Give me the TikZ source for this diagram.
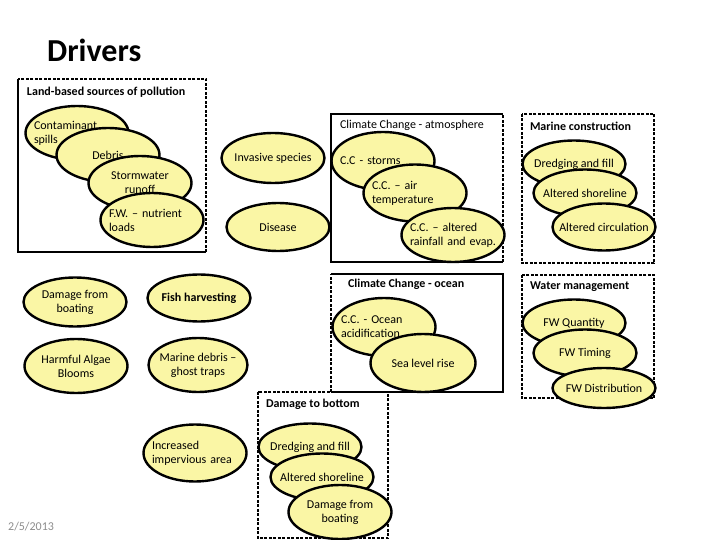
\documentclass[tikz,border=0pt]{standalone}
\usepackage{fontspec}
\setmainfont{Carlito}
\usetikzlibrary{shapes.geometric, positioning}
\definecolor{pale}{RGB}{250,246,165}
\tikzstyle{bubble} = [ellipse, draw=black, line width=2.4pt, fill=pale, minimum width=103pt, minimum height=54pt, inner xsep=-14pt, inner ysep=0pt, align=center, font=\fontsize{12}{14}\selectfont]
\tikzstyle{lbubble} = [bubble, text width=86pt, align=left]
\tikzstyle{flat} = [minimum height=47pt]
\tikzstyle{group} = [rectangle, draw=none, inner sep=0pt]
\tikzstyle{solidside} = [line width=2pt]
\tikzstyle{dashside} = [line width=2pt, dash pattern=on 3pt off 1.5pt]
\tikzstyle{heading} = [anchor=west, inner sep=0pt, font=\bfseries\fontsize{12}{14}\selectfont]

\begin{document}
\begin{tikzpicture}[x=1pt, y=-1pt]
\useasboundingbox (0,0) rectangle (720,540);

\node (title) [anchor=base west, inner sep=0pt, font=\bfseries\fontsize{32}{36}\selectfont] at (47,62) {Drivers};

% group boxes
\node (landbox) [group, minimum width=188pt, minimum height=173pt] at (112,165.5) {};
\node (atmbox) [group, minimum width=172pt, minimum height=148pt] at (417,188) {};
\node (marbox) [group, minimum width=132pt, minimum height=149pt] at (588,188.5) {};
\node (oceanbox) [group, minimum width=172pt, minimum height=118pt] at (417,333) {};
\node (waterbox) [group, minimum width=132pt, minimum height=123pt] at (588,336.5) {};
\node (bottombox) [group, minimum width=130pt, minimum height=146pt] at (323,465) {};

\draw [dashside] (landbox.south east) |- (landbox.north west);
\draw [solidside] (landbox.north west) |- (landbox.south east);
\draw [solidside] (atmbox.north east) -| (atmbox.south west) -- (atmbox.south east);
\draw [dashside] (atmbox.south east) -- (atmbox.north east);
\draw [dashside] (marbox.north west) rectangle (marbox.south east);
\draw [solidside] (oceanbox.north west) -- (oceanbox.north east) |- (oceanbox.south west);
\draw [dashside] (oceanbox.south west) -- (oceanbox.north west);
\draw [dashside] (waterbox.north west) rectangle (waterbox.south east);
\draw [dashside] (bottombox.north west) rectangle (bottombox.south east);

\node (landtitle) [heading, right=9pt of landbox.north west, yshift=-13pt] {Land-based sources of pollution};
\node (atmtitle) [heading, font=\fontsize{12}{14}\selectfont, right=9pt of atmbox.north west, yshift=-12pt] {Climate Change - atmosphere};
\node (martitle) [heading, right=8pt of marbox.north west, yshift=-13pt] {Marine construction};
\node (oceantitle) [heading, right=17pt of oceanbox.north west, yshift=-11pt] {Climate Change - ocean};
\node (watertitle) [heading, right=8pt of waterbox.north west, yshift=-12pt] {Water management};
\node (bottomtitle) [heading, right=8pt of bottombox.north west, yshift=-13pt] {Damage to bottom};

% land-based sources
\node (spills) [lbubble] at (77,133) {Contaminant\\spills};
\node (debris) [bubble] at (108,155) {Debris};
\node (storm) [bubble] at (140,183) {Stormwater\\runoff};
\node (nutrient) [lbubble] at (152,220) {F.W. – nutrient\\loads};

\node (invasive) [bubble, minimum height=50pt] at (273,158) {Invasive species};
\node (disease) [bubble, minimum height=48pt] at (278,227) {Disease};

% climate change - atmosphere
\node (storms) [lbubble, minimum height=58pt] at (383,161) {C.C - storms};
\node (airtemp) [lbubble, minimum height=57pt] at (415,193) {C.C. – air\\temperature};
\node (rainfall) [lbubble] at (453,235) {C.C. – altered\\rainfall and evap.};

% marine construction
\node (mdredge) [bubble, flat] at (574,164) {Dredging and fill};
\node (mshore) [bubble, flat] at (585,193) {Altered shoreline};
\node (mcirc) [bubble, flat] at (604,227) {Altered circulation};

% climate change - ocean
\node (acid) [lbubble, minimum height=58pt] at (384,327) {C.C. - Ocean\\acidification};
\node (sealevel) [bubble, minimum width=105pt, minimum height=58pt] at (423,363) {Sea level rise};

% water management
\node (fwqty) [bubble, flat] at (574,323) {FW Quantity};
\node (fwtime) [bubble, flat] at (585,353) {FW Timing};
\node (fwdist) [bubble, minimum height=40pt] at (604,388) {FW Distribution};

% other drivers
\node (boating) [bubble, minimum height=49pt] at (75,302) {Damage from\\boating};
\node (fish) [bubble, flat, font=\bfseries\fontsize{12}{14}\selectfont] at (199,298) {Fish harvesting};
\node (algae) [bubble] at (76,366) {Harmful Algae\\Blooms};
\node (ghost) [bubble, minimum width=99pt] at (198,365) {Marine debris –\\ghost traps};
\node (impervious) [lbubble, minimum height=57pt] at (195,453) {Increased\\impervious area};

% damage to bottom
\node (bdredge) [bubble, flat] at (310,447) {Dredging and fill};
\node (bshore) [bubble, flat] at (322,477) {Altered shoreline};
\node (bboating) [bubble] at (340,512) {Damage from\\boating};

\node (date) [anchor=west, inner sep=0pt, text=black!45, font=\fontsize{12}{14}\selectfont] at (8,527) {2/5/2013};
\end{tikzpicture}
\end{document}
